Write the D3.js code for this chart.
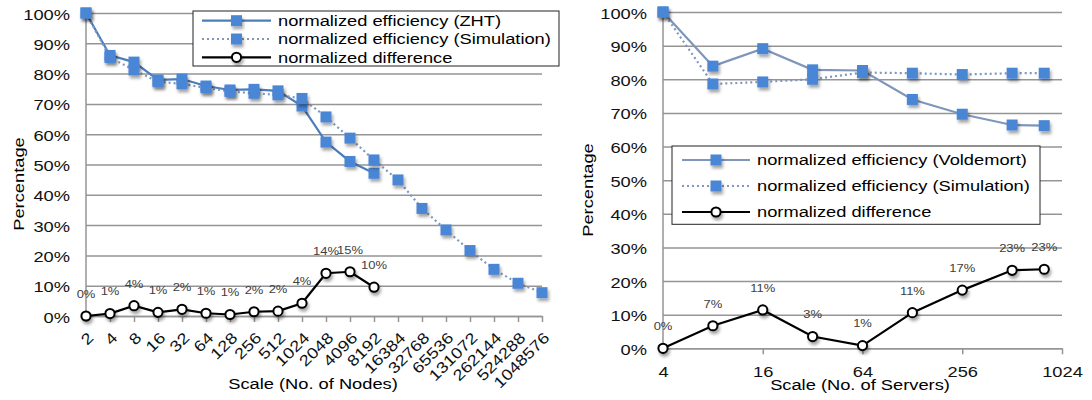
<!DOCTYPE html>
<html>
<head>
<meta charset="utf-8">
<script src="https://cdn.jsdelivr.net/npm/d3@7/dist/d3.min.js"></script>
<style>
body { margin: 0; background: #fff; }
text { font-family: "Liberation Sans", Arial, Helvetica, sans-serif; }
</style>
</head>
<body>
<script>
// left chart: scale in nodes
var nodes = ["2","4","8","16","32","64","128","256","512","1024","2048","4096","8192",
  "16384","32768","65536","131072","262144","524288","1048576"];
var zhtEff = [100, 86, 83.8, 77.9, 78.2, 75.9, 74.6, 74.8, 74.3, 69.3, 57.4, 51, 47.1];
var simEffL = [100, 85.3, 81.2, 77.3, 76.6, 75.3, 74.1, 73.5, 73, 71.8, 65.7, 58.7, 51.5,
  44.9, 35.5, 28.4, 21.6, 15.4, 10.8, 7.7];
var diffL = [0, 0.8, 3.4, 1.2, 2.2, 0.9, 0.5, 1.4, 1.6, 4.2, 14.1, 14.6, 9.5];
var diffLabelsL = ["0%","1%","4%","1%","2%","1%","1%","2%","2%","4%","14%","15%","10%"];

// right chart: scale in servers
var servers = [4, 8, 16, 32, 64, 128, 256, 512, 800];
var voldEff = [100, 83.9, 89.1, 82.8, 82.6, 74.0, 69.6, 66.4, 66.2];
var simEffR = [100, 78.6, 79.2, 80.0, 82.0, 81.8, 81.4, 81.8, 81.8];
var diffR = [0, 6.7, 11.4, 3.5, 0.8, 10.6, 17.3, 23.2, 23.5];
var diffLabelsR = ["0%","7%","11%","3%","1%","11%","17%","23%","23%"];
var serverTicks = [4, 16, 64, 256, 1024];
var pctTicks = d3.range(0, 101, 10);

var SX = 1.18;           // the original type is set wide
var gridCol = "#959595";
var markCol = "#4a86d6";

var svg = d3.select("body").append("svg").attr("width", 1092).attr("height", 400);

var defs = svg.append("defs");
var f = defs.append("filter").attr("id", "shadow")
  .attr("x", "-50%").attr("y", "-50%").attr("width", "200%").attr("height", "200%");
f.append("feDropShadow").attr("dx", 1.5).attr("dy", 3).attr("stdDeviation", 1.6)
  .attr("flood-color", "#000").attr("flood-opacity", 0.35);

function wide(sel, x, y, size, anchor, extra) {
  return sel.attr("transform", "translate(" + x + "," + y + ")" + (extra || "") + " scale(" + SX + ",1)")
    .style("font-size", size + "px").attr("text-anchor", anchor || "start");
}

function yAxis(g, y, x0, x1) {
  var ax = g.append("g").attr("transform", "translate(" + x0 + ",0)")
    .call(d3.axisLeft(y).tickValues(pctTicks).tickSize(-(x1 - x0)).tickSizeOuter(0)
      .tickFormat(function (d) { return d + "%"; }));
  ax.select(".domain").remove();
  ax.selectAll("line").attr("stroke", gridCol).attr("stroke-width", 1.5);
  ax.selectAll("text").attr("x", 0).attr("dy", null)
    .attr("transform", "translate(-16,6) scale(" + SX + ",1)")
    .style("font-size", "15.5px").attr("fill", "#111");
  g.append("line").attr("x1", x0).attr("x2", x0).attr("y1", y(100)).attr("y2", y(0))
    .attr("stroke", gridCol).attr("stroke-width", 1.5);
}

function squares(g, pts) {
  g.append("g").attr("filter", "url(#shadow)").selectAll("rect").data(pts).enter().append("rect")
    .attr("x", function (d) { return d[0] - 5.5; }).attr("y", function (d) { return d[1] - 5.5; })
    .attr("width", 11).attr("height", 11).attr("fill", markCol);
}
function circles(g, pts) {
  g.append("g").attr("filter", "url(#shadow)").selectAll("circle").data(pts).enter().append("circle")
    .attr("cx", function (d) { return d[0]; }).attr("cy", function (d) { return d[1]; })
    .attr("r", 4.6).attr("fill", "#fff").attr("stroke", "#000").attr("stroke-width", 2);
}
function path(g, pts, col, dash) {
  g.append("path").attr("d", d3.line()(pts)).attr("fill", "none").attr("stroke", col)
    .attr("stroke-width", 2.2).attr("stroke-dasharray", dash || null);
}
function legend(g, x0, y0, x1, y1, rows, lx0, lx1, tx, names, cols) {
  g.append("rect").attr("x", x0).attr("y", y0).attr("width", x1 - x0).attr("height", y1 - y0)
    .attr("fill", "#fff").attr("stroke", "#222").attr("stroke-width", 1);
  rows.forEach(function (ry, i) {
    path(g, [[lx0, ry], [lx1, ry]], cols[i], i == 1 ? "2,3" : null);
    var mid = [[(lx0 + lx1) / 2, ry]];
    if (i < 2) squares(g, mid); else circles(g, mid);
    wide(g.append("text").text(names[i]).attr("dy", "0.35em"), tx, ry, 15.5);
  });
}

// ---------- left chart ----------
var L = svg.append("g");
var xl = d3.scalePoint().domain(nodes).range([86, 542]);
var yl = d3.scaleLinear().domain([0, 100]).range([316, 13]);
yAxis(L, yl, 86, 542);

var axL = L.append("g").attr("transform", "translate(0,316)")
  .call(d3.axisBottom(xl).tickSize(6).tickSizeOuter(0));
axL.select(".domain").attr("stroke", gridCol).attr("stroke-width", 1.5);
axL.selectAll("line").attr("stroke", gridCol).attr("stroke-width", 1.5);
axL.selectAll("text").attr("x", 0).attr("y", 0).attr("dy", "0.35em")
  .attr("transform", "translate(4,19) rotate(-45) scale(" + SX + ",1)")
  .style("font-size", "15.5px").attr("text-anchor", "end").attr("fill", "#111");

var ptsZ = zhtEff.map(function (v, i) { return [xl(nodes[i]), yl(v)]; });
var ptsS = simEffL.map(function (v, i) { return [xl(nodes[i]), yl(v)]; });
var ptsD = diffL.map(function (v, i) { return [xl(nodes[i]), yl(v)]; });
path(L, ptsZ, "#4a7ebb");
path(L, ptsS, "#7f97c0", "2,3");
squares(L, ptsZ);
squares(L, ptsS);
path(L, ptsD, "#000");
circles(L, ptsD);
L.selectAll(".dlab").data(ptsD).enter().append("text").attr("class", "dlab")
  .each(function (d, i) {
    wide(d3.select(this).text(diffLabelsL[i]).attr("dy", "0.35em").attr("fill", "#404040"),
      d[0], d[1] - 22, 11, "middle");
  });

wide(L.append("text").text("Scale (No. of Nodes)").attr("dy", "0.35em"), 313, 384, 15.5, "middle");
wide(L.append("text").text("Percentage").attr("dy", "0.35em"), 18.5, 184, 15.5, "middle", " rotate(-90)");

legend(L, 193, 11, 559, 66, [20.7, 39, 57.3], 202, 271, 278,
  ["normalized efficiency (ZHT)", "normalized efficiency (Simulation)", "normalized difference"],
  ["#4a7ebb", "#7f97c0", "#000"]);

// ---------- right chart ----------
var R = svg.append("g");
var xr = d3.scaleLog().base(2).domain([4, 1024]).range([663, 1062]);
var yr = d3.scaleLinear().domain([0, 100]).range([348.3, 12]);
yAxis(R, yr, 663, 1062);

var axR = R.append("g").attr("transform", "translate(0,348.3)")
  .call(d3.axisBottom(xr).tickValues(serverTicks).tickSize(6).tickSizeOuter(0).tickFormat(d3.format("d")));
axR.select(".domain").attr("stroke", gridCol).attr("stroke-width", 1.5);
axR.selectAll("line").attr("stroke", gridCol).attr("stroke-width", 1.5);
axR.selectAll("text").attr("y", 0).attr("dy", null)
  .attr("transform", "translate(0,29) scale(" + SX + ",1)")
  .style("font-size", "15.5px").attr("fill", "#111");

var ptsV = voldEff.map(function (v, i) { return [xr(servers[i]), yr(v)]; });
var ptsS2 = simEffR.map(function (v, i) { return [xr(servers[i]), yr(v)]; });
var ptsD2 = diffR.map(function (v, i) { return [xr(servers[i]), yr(v)]; });
path(R, ptsV, "#7f96ba");
path(R, ptsS2, "#7f97c0", "2,3");
squares(R, ptsV);
squares(R, ptsS2);
path(R, ptsD2, "#000");
circles(R, ptsD2);
R.selectAll(".dlab").data(ptsD2).enter().append("text").attr("class", "dlab")
  .each(function (d, i) {
    wide(d3.select(this).text(diffLabelsR[i]).attr("dy", "0.35em").attr("fill", "#404040"),
      d[0], d[1] - 22, 11, "middle");
  });

wide(R.append("text").text("Scale (No. of Servers)").attr("dy", "0.35em"), 860, 385, 15.5, "middle");
wide(R.append("text").text("Percentage").attr("dy", "0.35em"), 588, 190, 15.5, "middle", " rotate(-90)");

legend(R, 672, 146, 1040, 224.3, [160, 186, 212], 682, 750, 757,
  ["normalized efficiency (Voldemort)", "normalized efficiency (Simulation)", "normalized difference"],
  ["#7f96ba", "#7f97c0", "#000"]);
</script>
</body>
</html>
